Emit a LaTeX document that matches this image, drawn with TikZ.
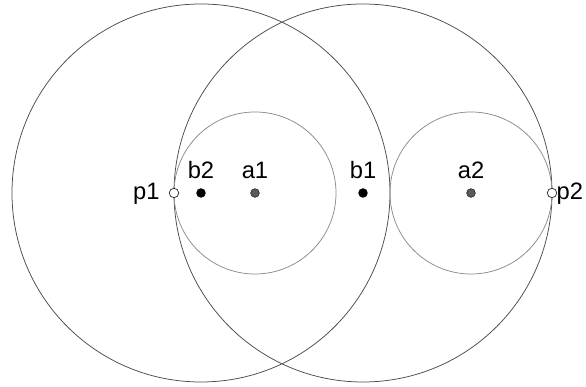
\documentclass[tikz,border=0pt]{standalone}
\usepackage{fontspec}
\setmainfont{Liberation Sans}
\begin{document}
\begin{tikzpicture}[x=0.5cm,y=0.5cm,
  bigcirc/.style={draw=black!70,line width=0.4pt},
  smallcirc/.style={draw=black!45,line width=0.4pt},
  opendot/.style={circle,draw=black!80,fill=white,line width=0.4pt,inner sep=0pt,minimum size=5pt},
  soliddot/.style={circle,fill=black,inner sep=0pt,minimum size=5pt},
  centerdot/.style={circle,fill=black!65,draw=black!85,line width=0.3pt,inner sep=0pt,minimum size=4.6pt},
  lab/.style={inner sep=0pt,font=\fontsize{12.5}{14}\selectfont}]
\useasboundingbox (-6.444,-7.185) rectangle (15.259,7.148);
\coordinate (p1) at (0,0);
\coordinate (b2) at (1,0);
\coordinate (a1) at (3,0);
\coordinate (b1) at (7,0);
\coordinate (a2) at (11,0);
\coordinate (p2) at (14,0);
% circles
\draw[bigcirc] (b2) circle (7);
\draw[bigcirc] (b1) circle (7);
\draw[smallcirc] (a1) circle (3);
\draw[smallcirc] (a2) circle (3);
% points
\node[opendot] (P1) at (p1) {};
\node[opendot] (P2) at (p2) {};
\node[soliddot] (B2) at (b2) {};
\node[soliddot] (B1) at (b1) {};
\node[centerdot] (A1) at (a1) {};
\node[centerdot] (A2) at (a2) {};
% labels
\node[lab,anchor=base east] (lp1) at ([xshift=-0.26cm,yshift=-0.12cm]p1) {p1};
\node[lab,anchor=base west] (lp2) at ([xshift=0.08cm,yshift=-0.12cm]p2) {p2};
\node[lab,anchor=base] (lb2) at ([yshift=0.26cm]b2) {b2};
\node[lab,anchor=base] (la1) at ([yshift=0.26cm]a1) {a1};
\node[lab,anchor=base] (lb1) at ([yshift=0.26cm]b1) {b1};
\node[lab,anchor=base] (la2) at ([yshift=0.26cm]a2) {a2};
\end{tikzpicture}
\end{document}
